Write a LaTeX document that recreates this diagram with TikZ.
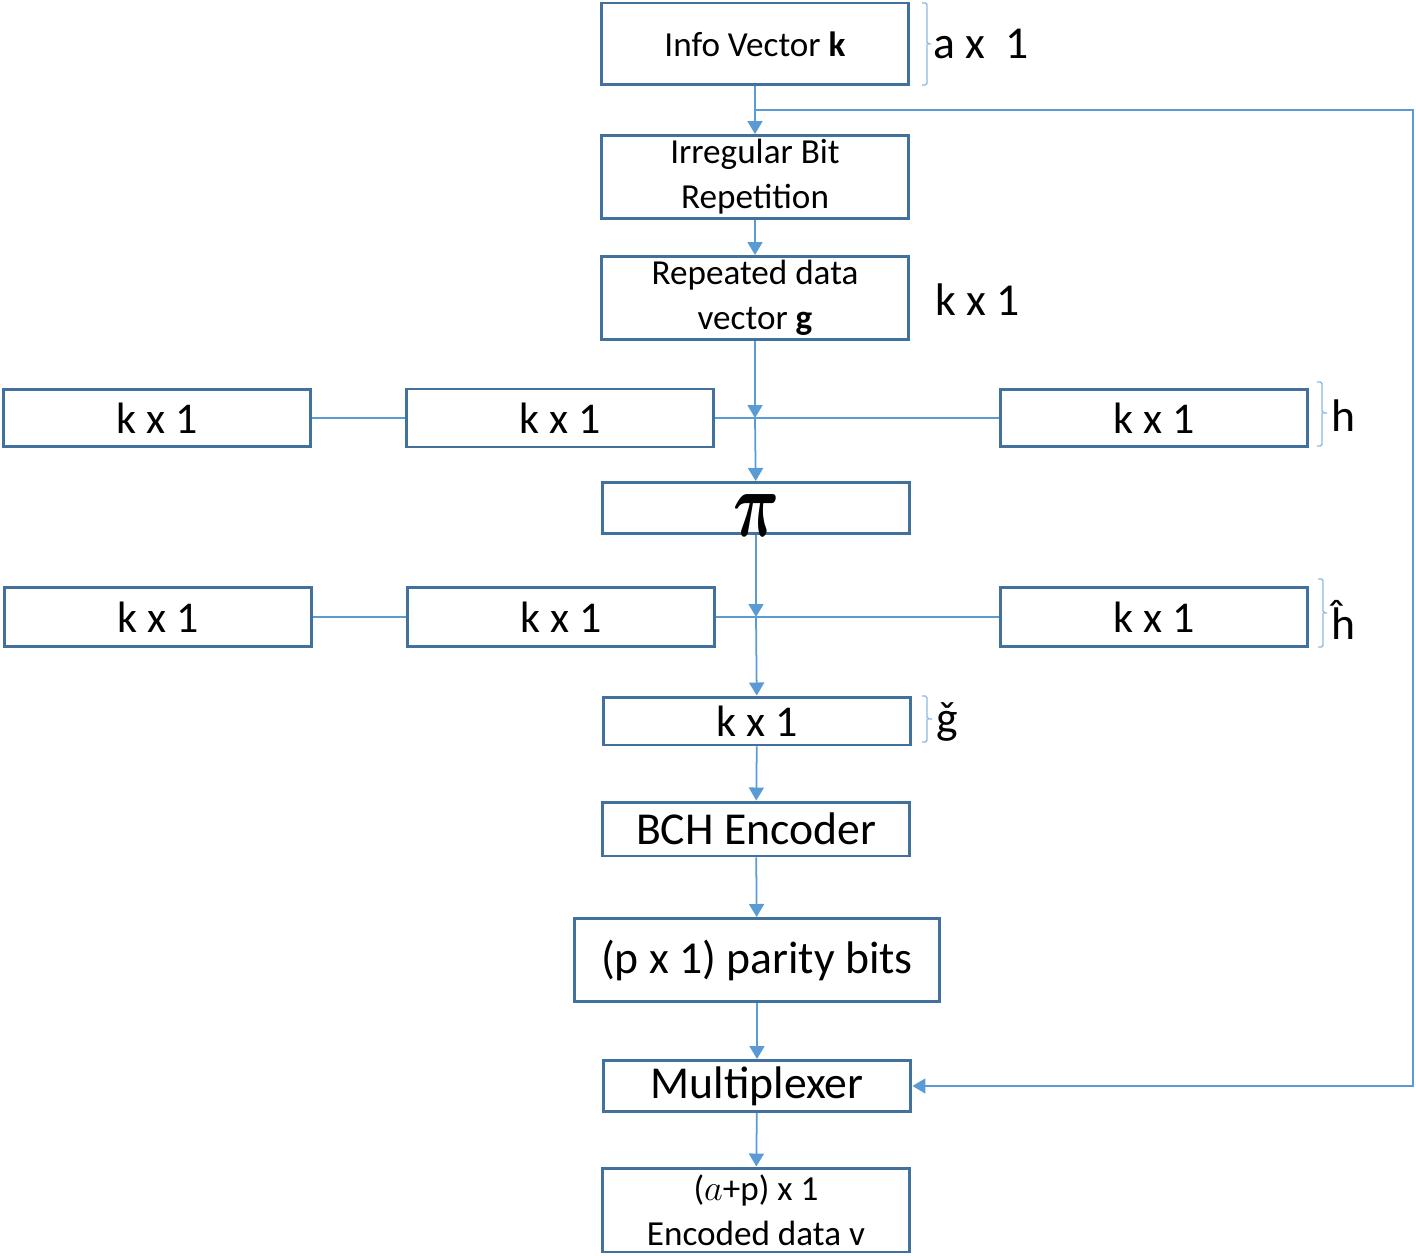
\documentclass[tikz,border=0pt]{standalone}
\usepackage{fontspec}
\setmainfont{Carlito}
\usepackage{graphicx}
\usetikzlibrary{arrows.meta}
\definecolor{boxblue}{HTML}{41719C}
\definecolor{lineblue}{HTML}{5B9BD5}
\definecolor{braceblue}{HTML}{8FB8E0}
\tikzset{
  blk/.style={draw=boxblue, line width=1.7pt, fill=white, minimum width=6.16cm,
    inner sep=0pt, align=center, font=\fontsize{20}{25.5}\selectfont},
  bigtxt/.style={font=\fontsize{26}{30}\selectfont},
  midtxt/.style={font=\fontsize{25}{30}\selectfont},
  conn/.style={draw=lineblue, line width=1pt, -{Triangle[width=0.3cm,length=0.26cm]}},
  link/.style={draw=lineblue, line width=1pt},
  brc/.style={draw=braceblue, line width=0.8pt, rounded corners=1pt},
  side/.style={anchor=west, inner sep=0pt, font=\fontsize{26}{30}\selectfont}
}
\begin{document}
\begin{tikzpicture}[x=0.02cm, y=-0.02cm]
  \useasboundingbox (0,0) rectangle (1416,1256);
  % main column
  \node[blk, minimum height=1.64cm] (info) at (755,44) {Info Vector \textbf{k}};
  \node[blk, minimum height=1.66cm] (irb) at (755,177) {Irregular Bit\\Repetition};
  \node[blk, minimum height=1.66cm] (rep) at (755,298) {Repeated data\\vector \textbf{g}};
  % h row
  \node[blk, midtxt, minimum height=1.14cm] (hl) at (157,418) {k x 1};
  \node[blk, midtxt, minimum height=1.16cm] (hm) at (560,418) {k x 1};
  \node[blk, midtxt, minimum height=1.14cm] (hr) at (1154,418) {k x 1};
  \node[blk, minimum height=1.02cm] (perm) at (756,508)
    {\smash{\raisebox{-0.58cm}{\resizebox{0.92cm}{0.84cm}{\boldmath$\pi$}}}};
  % h-hat row
  \node[blk, midtxt, minimum height=1.18cm] (hhl) at (158,617) {k x 1};
  \node[blk, midtxt, minimum height=1.18cm] (hhm) at (561,617) {k x 1};
  \node[blk, midtxt, minimum height=1.18cm] (hhr) at (1154,617) {k x 1};
  \node[blk, midtxt, minimum height=0.96cm] (gt) at (757,721) {k x 1};
  \node[blk, bigtxt, minimum height=1.08cm] (bch) at (756,829) {BCH Encoder};
  \node[blk, bigtxt, minimum width=7.3cm, minimum height=1.66cm] (par) at (757,960) {(p x 1) parity bits};
  \node[blk, bigtxt, minimum height=1.02cm] (mux) at (757,1086) {Multiplexer};
  \node[blk, minimum height=1.68cm] (enc) at (756,1210) {($a$+p) x 1\\Encoded data v};
  % side labels
  \node[side] (lk) at (933,44) {a~x~~1};
  \node[side] (lg) at (935,300) {k x 1};
  \node[side] (lh) at (1331,416) {h};
  \node[side] (lhh) at (1331,620) {ĥ};
  \node[side] (lgt) at (936,722) {ǧ};
  % braces
  \draw[brc] (922,3) -| (927,44) -- (931,44) (927,44) |- (922,85);
  \draw[brc] (1317,382) -| (1322,413) -- (1327,413) (1322,413) |- (1317,446);
  \draw[brc] (1318,579) -| (1323,613) -- (1327,613) (1323,613) |- (1318,647);
  \draw[brc] (922,696) -| (927,719) -- (932,719) (927,719) |- (922,742);
  % junctions
  \coordinate (split) at (755,110);
  \coordinate (fb) at (1413,1086);
  \coordinate (hj) at (755,418);
  \coordinate (hhj) at (756,617);
  % connectors
  \draw[conn] (info) -- (irb);
  \draw[conn] (split) -| (fb) -- (mux);
  \draw[conn] (irb) -- (rep);
  \draw[conn] (rep) -- (hj);
  \draw[link] (hl) -- (hm);
  \draw[link] (hm) -- (hr);
  \draw[conn] (hj) -- (perm);
  \draw[conn] (perm) -- (hhj);
  \draw[link] (hhl) -- (hhm);
  \draw[link] (hhm) -- (hhr);
  \draw[conn] (hhj) -- (gt);
  \draw[conn] (gt) -- (bch);
  \draw[conn] (bch) -- (par);
  \draw[conn] (par) -- (mux);
  \draw[conn] (mux) -- (enc);
\end{tikzpicture}
\end{document}
